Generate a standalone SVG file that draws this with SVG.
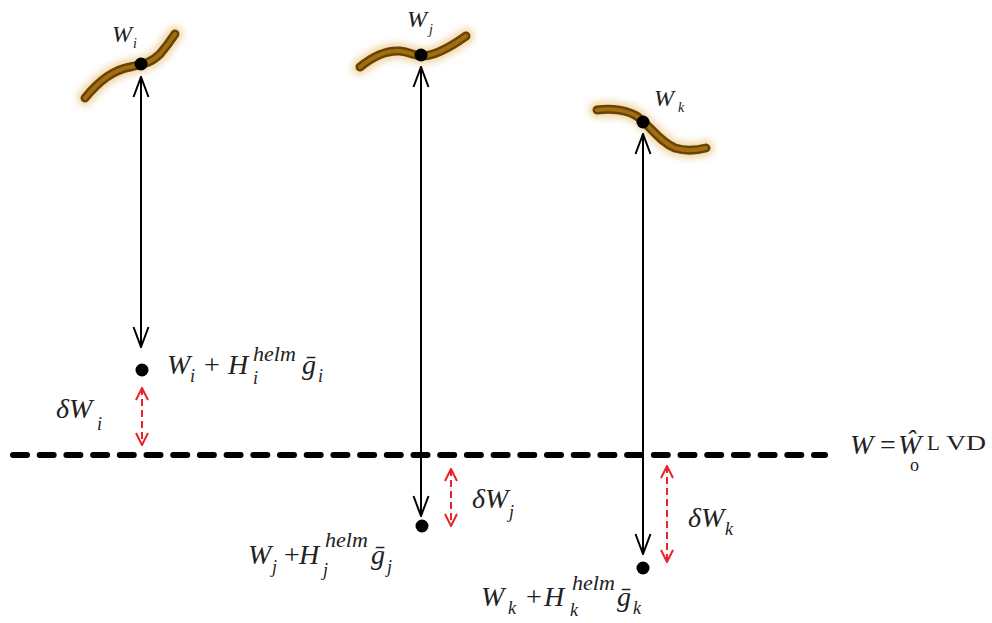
<svg xmlns="http://www.w3.org/2000/svg" width="992" height="623" viewBox="0 0 992 623">
<style>
.it{font-family:"Liberation Serif","DejaVu Serif",serif;font-style:italic;fill:#222}
.rm{font-family:"Liberation Serif","DejaVu Serif",serif;fill:#222}
.big{font-size:28px}
.top{font-size:24px}
.tsub{font-size:14px}
.sub{font-size:18px}
.sup{font-size:22px}
.glow{fill:none;stroke:#e9c886;stroke-width:17;stroke-linecap:round;opacity:0.65;filter:url(#blur)}
.tube{fill:none;stroke:#6b4300;stroke-width:9;stroke-linecap:round}
.core{fill:none;stroke:#a26e14;stroke-width:4;stroke-linecap:round}
.blk{stroke:#000;stroke-width:2;fill:none}
.red{stroke:#e8232b;stroke-width:2;fill:none;stroke-dasharray:7 4}
</style>
<defs>
<filter id="blur" x="-20%" y="-40%" width="140%" height="180%"><feGaussianBlur stdDeviation="3"/></filter>
<marker id="ab" markerUnits="userSpaceOnUse" viewBox="0 0 22 18" refX="21" refY="9" markerWidth="22" markerHeight="18" orient="auto-start-reverse"><path d="M1,1.5 L21,9 L1,16.5" fill="none" stroke="#000" stroke-width="2"/></marker>
<marker id="ar" markerUnits="userSpaceOnUse" viewBox="0 0 14 14" refX="13" refY="7" markerWidth="14" markerHeight="14" orient="auto-start-reverse"><path d="M1,1 L13,7 L1,13" fill="none" stroke="#e8232b" stroke-width="2"/></marker>
</defs>
<rect width="992" height="623" fill="#fff"/>

<g id="reference-line">
<line x1="13" y1="455" x2="825" y2="455" stroke="#000" stroke-width="6" stroke-linecap="round" stroke-dasharray="14 12.7"/>
<text class="it big" x="850" y="454">W</text>
<text class="rm big" x="880" y="454">=</text>
<text class="it big" x="898" y="454">Ŵ</text>
<text class="rm sub" x="910" y="471">o</text>
<text class="rm" font-size="21" x="927" y="450">L</text>
<text class="rm" font-size="21" x="946" y="450" textLength="40" lengthAdjust="spacingAndGlyphs">VD</text>
</g>

<g id="node-i">
<path class="glow" d="M85,98 C98,82 112,70 130,67 C145,64 152,62 160,54 C166,47 171,40 175,34"/>
<path class="tube" d="M85,98 C98,82 112,70 130,67 C145,64 152,62 160,54 C166,47 171,40 175,34"/>
<path class="core" d="M85,98 C98,82 112,70 130,67 C145,64 152,62 160,54 C166,47 171,40 175,34"/>
<circle cx="141" cy="64" r="6.5" fill="#000"/>
<text class="it top" x="112" y="42">W</text>
<text class="it tsub" x="133" y="48">i</text>
<circle cx="142" cy="370" r="6.5" fill="#000"/>
<text class="it big" x="167" y="374">W</text>
<text class="it sub" x="190" y="382">i</text>
<text class="rm big" x="204" y="374">+</text>
<text class="it big" x="228" y="374">H</text>
<text class="it sup" x="253" y="361">helm</text>
<text class="it sub" x="253" y="384">i</text>
<text class="it big" x="302" y="374">ḡ</text>
<text class="it sub" x="318" y="382">i</text>
<text class="it big" x="56" y="418">δW</text>
<text class="it sub" x="97" y="430">i</text>
</g>

<g id="node-j">
<path class="glow" d="M360,67 C372,57 385,50 400,51 C410,52 414,56 422,56 C435,56 452,46 466,36"/>
<path class="tube" d="M360,67 C372,57 385,50 400,51 C410,52 414,56 422,56 C435,56 452,46 466,36"/>
<path class="core" d="M360,67 C372,57 385,50 400,51 C410,52 414,56 422,56 C435,56 452,46 466,36"/>
<circle cx="421" cy="55" r="6.5" fill="#000"/>
<text class="it top" x="407" y="27">W</text>
<text class="it tsub" x="429" y="34">j</text>
<circle cx="422" cy="526" r="6.5" fill="#000"/>
<text class="it big" x="248" y="564">W</text>
<text class="it sub" x="272" y="573">j</text>
<text class="rm big" x="284" y="564">+</text>
<text class="it big" x="299" y="564">H</text>
<text class="it sup" x="325" y="547">helm</text>
<text class="it sub" x="323" y="576">j</text>
<text class="it big" x="371" y="564">ḡ</text>
<text class="it sub" x="387" y="573">j</text>
<text class="it big" x="472" y="508">δW</text>
<text class="it sub" x="509" y="518">j</text>
</g>

<g id="node-k">
<path class="glow" d="M597,110 C612,108 628,110 638,117 C650,126 660,142 675,148 C688,152 698,150 706,148"/>
<path class="tube" d="M597,110 C612,108 628,110 638,117 C650,126 660,142 675,148 C688,152 698,150 706,148"/>
<path class="core" d="M597,110 C612,108 628,110 638,117 C650,126 660,142 675,148 C688,152 698,150 706,148"/>
<circle cx="643" cy="122" r="6.5" fill="#000"/>
<text class="it top" x="654" y="106">W</text>
<text class="it tsub" x="678" y="112">k</text>
<circle cx="643" cy="568" r="6.5" fill="#000"/>
<text class="it big" x="481" y="606">W</text>
<text class="it sub" x="508" y="614">k</text>
<text class="rm big" x="526" y="606">+</text>
<text class="it big" x="544" y="606">H</text>
<text class="it sup" x="572" y="590">helm</text>
<text class="it sub" x="570" y="616">k</text>
<text class="it big" x="617" y="606">ḡ</text>
<text class="it sub" x="633" y="614">k</text>
<text class="it big" x="688" y="527">δW</text>
<text class="it sub" x="725" y="535">k</text>
</g>

<g id="connectors">
<line class="blk" x1="141" y1="77" x2="141" y2="347" marker-start="url(#ab)" marker-end="url(#ab)"/>
<line class="blk" x1="421" y1="67" x2="421" y2="516" marker-start="url(#ab)" marker-end="url(#ab)"/>
<line class="blk" x1="643" y1="134" x2="643" y2="554" marker-start="url(#ab)" marker-end="url(#ab)"/>
<line class="red" x1="142" y1="388" x2="142" y2="445" marker-start="url(#ar)" marker-end="url(#ar)"/>
<line class="red" x1="451" y1="469" x2="451" y2="526" marker-start="url(#ar)" marker-end="url(#ar)"/>
<line class="red" x1="667" y1="466" x2="667" y2="562" marker-start="url(#ar)" marker-end="url(#ar)"/>
</g>
</svg>
